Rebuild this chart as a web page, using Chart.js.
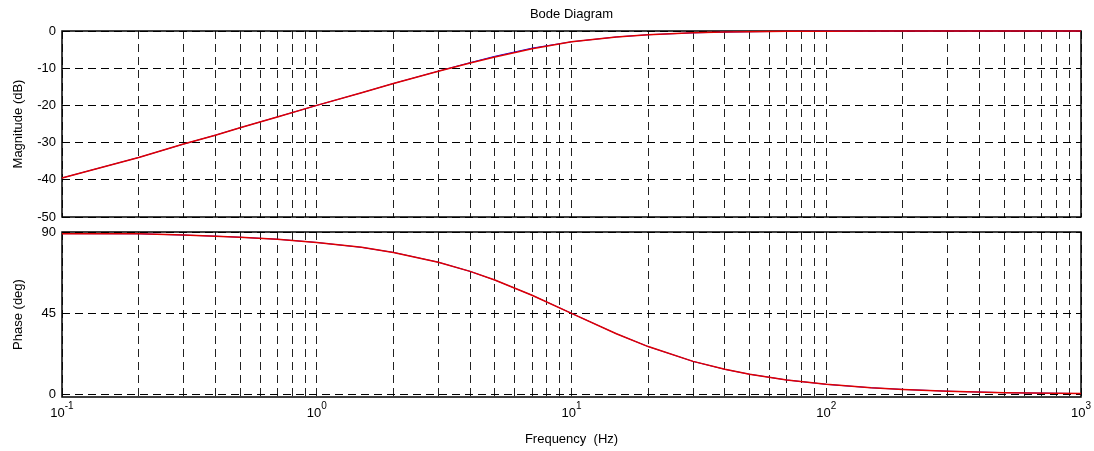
<!DOCTYPE html>
<html>
<head>
<meta charset="utf-8">
<script src="https://cdn.jsdelivr.net/npm/chart.js@4/dist/chart.umd.min.js"></script>
<style>
  body { margin: 0; background: #fff; }
  #wrap { position: relative; width: 1094px; height: 451px; }
  canvas { position: absolute; left: 0; }
  #magChart { top: 0; }
  #phaseChart { top: 212px; }
</style>
</head>
<body>
<div id="wrap">
  <canvas id="magChart" width="1094" height="240"></canvas>
  <canvas id="phaseChart" width="1094" height="239"></canvas>
</div>
<script>
// frequency points (Hz)
var freqs = [0.1, 0.2, 0.3, 0.4, 0.5, 0.7, 1, 1.5, 2, 3, 4, 5, 7, 10, 15, 20, 30, 40, 50, 70, 100, 150, 200, 300, 500, 1000];
var magRed = [-39.5, -34.0, -30.4, -28.0, -26.0, -23.1, -20.0, -16.6, -14.1, -10.8, -8.6, -7.0, -4.8, -2.9, -1.6, -1.0, -0.5, -0.3, -0.2, -0.1, -0.04, -0.02, -0.01, 0, 0, 0];
var magBlue = [-39.5, -34.0, -30.4, -28.0, -26.0, -23.1, -20.0, -16.6, -14.1, -10.8, -8.5, -6.8, -4.6, -2.9, -1.6, -1.0, -0.5, -0.3, -0.2, -0.1, -0.04, -0.02, -0.01, 0, 0, 0];
var phaseRed = [89.1, 89.0, 88.3, 87.7, 87.1, 86.0, 84.2, 81.5, 78.7, 73.3, 68.2, 63.4, 55.0, 45.0, 33.7, 26.6, 18.4, 14.0, 11.3, 8.1, 5.7, 3.8, 2.9, 1.9, 1.1, 0.6];
var phaseBlue = [89.1, 89.0, 88.3, 87.7, 87.1, 86.0, 84.2, 81.5, 78.7, 73.3, 68.2, 63.4, 55.0, 45.0, 33.7, 26.6, 18.4, 14.0, 11.3, 8.1, 5.7, 3.8, 2.9, 1.9, 1.1, 0.6];

var decadeTicks = [0.1, 1, 10, 100, 1000];
var decadeExp = ['-1', '0', '1', '2', '3'];
var magTicks = [-50, -40, -30, -20, -10, 0];
var phaseTicks = [0, 45, 90];

var FONT = '"Liberation Sans", Arial, sans-serif';
Chart.defaults.font.family = FONT;
Chart.defaults.font.size = 13;
Chart.defaults.color = '#000';

function pts(xs, ys) {
  return xs.map(function (x, i) { return { x: x, y: ys[i] }; });
}

// grid at 1..9 x each decade
var gridTicks = [];
decadeTicks.forEach(function (d, i) {
  if (i === decadeTicks.length - 1) { gridTicks.push(d); return; }
  for (var m = 1; m <= 9; m++) gridTicks.push(+(m * d).toPrecision(3));
});

function xScale(h) {
  return {
    type: 'logarithmic',
    min: 0.1, max: 1000,
    afterBuildTicks: function (ax) { ax.ticks = gridTicks.map(function (v) { return { value: v }; }); },
    afterFit: function (ax) { ax.height = h; },
    ticks: { display: false },
    grid: { color: '#222', lineWidth: 1, drawTicks: false },
    border: { display: false, dash: [8, 5] }
  };
}

function yScale(min, max, vals) {
  return {
    min: min, max: max,
    afterBuildTicks: function (ax) { ax.ticks = vals.map(function (v) { return { value: v }; }); },
    afterFit: function (ax) { ax.width = 62; },
    ticks: { padding: 6, font: { size: 13 }, color: '#000' },
    grid: { color: '#000', lineWidth: 1, drawTicks: false },
    border: { display: false, dash: [8, 5] }
  };
}

var boxPlugin = {
  id: 'box',
  beforeDatasetsDraw: function (chart) {
    var a = chart.chartArea, c = chart.ctx;
    c.save();
    c.strokeStyle = '#000';
    c.lineWidth = 1.5;
    c.strokeRect(a.left, a.top, a.right - a.left, a.bottom - a.top);
    c.restore();
  }
};

var textPlugin = {
  id: 'texts',
  afterDraw: function (chart, args, o) {
    var c = chart.ctx, a = chart.chartArea;
    c.save();
    c.fillStyle = '#000';
    c.textBaseline = 'middle';
    c.textAlign = 'center';
    c.font = '13px ' + FONT;
    if (o.title) c.fillText(o.title, (a.left + a.right) / 2, 14);
    c.save();
    c.translate(18, (a.top + a.bottom) / 2);
    c.rotate(-Math.PI / 2);
    c.fillText(o.ylabel, 0, 0);
    c.restore();
    if (o.xlabels) {
      var sx = chart.scales.x;
      decadeTicks.forEach(function (v, i) {
        var x = sx.getPixelForValue(v);
        c.font = '13px ' + FONT;
        var w1 = c.measureText('10').width;
        c.font = '10px ' + FONT;
        var w2 = c.measureText(decadeExp[i]).width;
        var x0 = x - (w1 + w2) / 2;
        c.textAlign = 'left';
        c.font = '13px ' + FONT;
        c.fillText('10', x0, a.bottom + 16);
        c.font = '10px ' + FONT;
        c.fillText(decadeExp[i], x0 + w1, a.bottom + 9);
      });
      c.textAlign = 'center';
      c.font = '13px ' + FONT;
      c.fillText('Frequency  (Hz)', sx.getPixelForValue(10), a.bottom + 42);
    }
    c.restore();
  }
};

function lineSet(data, color, w) {
  return {
    data: data,
    borderColor: color,
    borderWidth: w,
    pointRadius: 0,
    tension: 0,
    fill: false,
    clip: false
  };
}

// dataset 0 is drawn on top, so red comes first
new Chart(document.getElementById('magChart').getContext('2d'), {
  type: 'line',
  data: {
    datasets: [lineSet(pts(freqs, magRed), '#e00000', 1.5), lineSet(pts(freqs, magBlue), '#0000ff', 1)]
  },
  options: {
    responsive: false,
    animation: false,
    layout: { padding: { top: 31, right: 13, left: 0, bottom: 0 } },
    plugins: {
      legend: { display: false },
      tooltip: { enabled: false },
      texts: { title: 'Bode Diagram', ylabel: 'Magnitude (dB)' }
    },
    scales: { x: xScale(23), y: yScale(-50, 0, magTicks) }
  },
  plugins: [boxPlugin, textPlugin]
});

new Chart(document.getElementById('phaseChart').getContext('2d'), {
  type: 'line',
  data: {
    datasets: [lineSet(pts(freqs, phaseRed), '#e00000', 1.5), lineSet(pts(freqs, phaseBlue), '#0000ff', 1)]
  },
  options: {
    responsive: false,
    animation: false,
    layout: { padding: { top: 20, right: 13, left: 0, bottom: 0 } },
    plugins: {
      legend: { display: false },
      tooltip: { enabled: false },
      texts: { ylabel: 'Phase (deg)', xlabels: true }
    },
    scales: { x: xScale(54), y: yScale(-1.3, 90, phaseTicks) }
  },
  plugins: [boxPlugin, textPlugin]
});
</script>
</body>
</html>
